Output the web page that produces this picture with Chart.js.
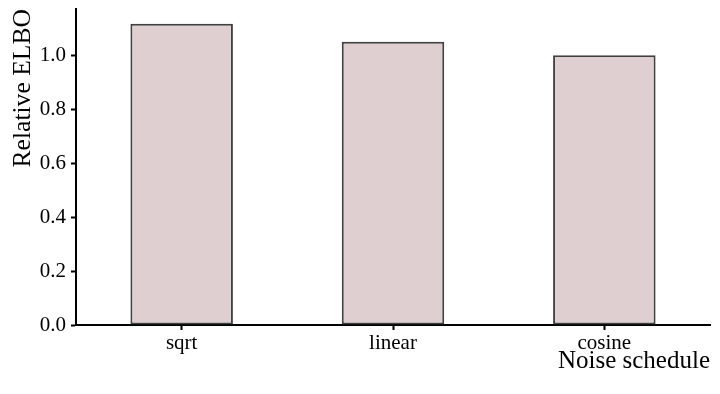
<!DOCTYPE html>
<html>
<head>
<meta charset="utf-8">
<script src="https://cdn.jsdelivr.net/npm/chart.js@4"></script>
<style>
  html, body { margin: 0; padding: 0; background: #ffffff; }
  #wrap { width: 720px; height: 394px; }
</style>
</head>
<body>
<div id="wrap"><canvas id="c" width="720" height="394"></canvas></div>
<script>
const categories = ['sqrt', 'linear', 'cosine'];
const relativeElbo = [1.116, 1.05, 1.0];
const yTickValues = [0.0, 0.2, 0.4, 0.6, 0.8, 1.0];
const yTickLabels = ['0.0', '0.2', '0.4', '0.6', '0.8', '1.0'];
const xTitle = 'Noise schedule';
const yTitle = 'Relative ELBO';

const serif = '"Liberation Serif", "Times New Roman", serif';

new Chart(document.getElementById('c'), {
  type: 'bar',
  data: {
    labels: categories,
    datasets: [{
      data: relativeElbo,
      backgroundColor: '#e0cfd0',
      borderColor: '#404040',
      borderWidth: 2,
      borderSkipped: false,
      barPercentage: 0.485,
      categoryPercentage: 1.0
    }]
  },
  options: {
    responsive: false,
    animation: false,
    devicePixelRatio: 1,
    layout: { padding: { left: 0, right: 10, top: 9, bottom: 0 } },
    plugins: { legend: { display: false }, tooltip: { enabled: false } },
    scales: {
      x: {
        offset: true,
        grid: { display: true, drawOnChartArea: false, drawTicks: true, tickLength: 5, tickColor: '#000', offset: false, tickWidth: 2 },
        border: { display: true, color: '#000', width: 2 },
        ticks: { color: '#000', padding: 3, font: { family: serif, size: 21, lineHeight: 1 } },
        title: { display: true, text: xTitle, align: 'end', color: '#000', padding: { top: 0, bottom: 26 }, font: { family: serif, size: 25, lineHeight: 0.56 } },
        afterFit: (axis) => { axis.height = 69; axis.paddingLeft = 0; axis.paddingRight = 0; }
      },
      y: {
        min: 0,
        max: 1.171,
        grid: { display: true, drawOnChartArea: false, drawTicks: true, tickLength: 5, tickColor: '#000', tickWidth: 2 },
        border: { display: true, color: '#000', width: 2 },
        afterBuildTicks: (axis) => { axis.ticks = yTickValues.map(v => ({ value: v })); },
        ticks: {
          color: '#000', padding: 5,
          font: { family: serif, size: 21, lineHeight: 1 },
          callback: (v) => { const i = yTickValues.findIndex(t => Math.abs(t - v) < 1e-9); return i >= 0 ? yTickLabels[i] : ''; }
        },
        title: { display: true, text: yTitle, align: 'end', color: '#000', padding: { top: 10, bottom: 0 }, font: { family: serif, size: 25.6, lineHeight: 1 } },
        afterFit: (axis) => { axis.width = 76; axis.paddingTop = 0; axis.paddingBottom = 0; }
      }
    }
  }
});
</script>
</body>
</html>
